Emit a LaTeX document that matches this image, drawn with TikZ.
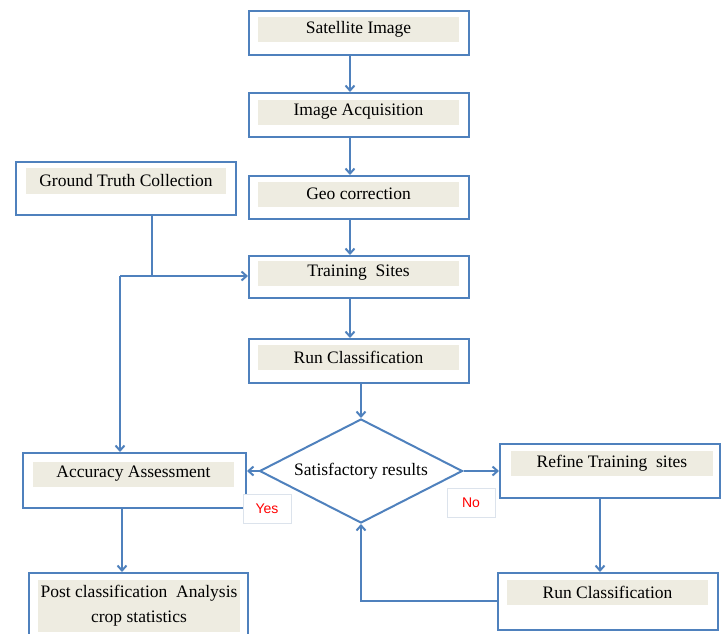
\documentclass[tikz,border=0pt]{standalone}
\usepackage{fontspec}
\setmainfont{Liberation Serif}
\newfontfamily\lblfont{Liberation Sans}
\usetikzlibrary{arrows.meta,shapes.geometric}
\definecolor{bord}{HTML}{4F81BD}
\definecolor{stripc}{HTML}{EEECE1}
\definecolor{lblbord}{HTML}{DCE3EC}
\tikzset{
  box/.style={draw=bord,line width=2pt,fill=white,minimum width=220pt,inner sep=0pt},
  strip/.style={fill=stripc,minimum width=201pt,minimum height=25pt,inner sep=0pt,font=\fontsize{17.5}{21}\selectfont},
  conn/.style={draw=bord,line width=2pt},
  arr/.style={conn,-{Straight Barb[length=5pt,width=9pt,line width=2pt]}},
  lbl/.style={draw=lblbord,line width=0.6pt,fill=white,minimum width=48pt,minimum height=29pt,inner sep=0pt,text=red,font=\lblfont\fontsize{14}{16}\selectfont},
}
\begin{document}
\begin{tikzpicture}[x=1pt,y=-1pt]
\useasboundingbox (0,0) rectangle (727,633);
% main column boxes
\node[box,minimum height=44pt] (sat) at (359,33) {};
\node[strip] (satt) at (358.5,29.5) {Satellite Image};
\node[box,minimum height=44pt] (acq) at (359,115) {};
\node[strip] (acqt) at (358.5,112) {Image Acquisition};
\node[box,minimum height=43pt] (geo) at (359,197.5) {};
\node[strip] (geot) at (358.5,194) {Geo correction};
\node[box,minimum height=42pt] (trn) at (359,277) {};
\node[strip] (trnt) at (358.5,273) {Training\ \ Sites};
\node[box,minimum height=44pt] (run) at (359,361) {};
\node[strip] (runt) at (358.5,357) {Run Classification};
% ground truth
\node[box,minimum height=53pt] (gt) at (126,188.5) {};
\node[strip,minimum width=200pt,minimum height=26pt] (gtt) at (126,181) {Ground Truth Collection};
% decision
\node[draw=bord,line width=2pt,diamond,aspect=1.95,minimum width=203pt,minimum height=104pt,inner sep=0pt,fill=white,font=\fontsize{17.5}{21}\selectfont] (dec) at (361,471) {Satisfactory results};
% accuracy
\node[box,minimum width=223pt,minimum height=55pt] (acc) at (134.5,480.5) {};
\node[strip] (acct) at (133.5,474) {Accuracy Assessment};
% refine
\node[box,minimum height=54pt] (ref) at (610,471) {};
\node[strip,minimum width=202pt] (reft) at (612,463.5) {Refine Training\ \ sites};
% run classification 2
\node[box,minimum height=57pt] (run2) at (608,601.5) {};
\node[strip] (run2t) at (607.5,592.5) {Run Classification};
% post classification
\node[box,minimum width=219pt,minimum height=66pt] (post) at (138.5,606) {};
\node[strip,minimum width=202pt,minimum height=52pt,align=center,font=\fontsize{17.5}{25}\selectfont] (postt) at (139,606) {Post classification\ \ Analysis\\crop statistics};
% yes / no labels
\node[lbl] (yes) at (267,508.5) {Yes};
\node[lbl] (no) at (471,502.5) {No};
% connectors
\draw[arr] (sat.south -| 350,0) -- (acq.north -| 350,0);
\draw[arr] (acq.south -| 350,0) -- (geo.north -| 350,0);
\draw[arr] (geo.south -| 350,0) -- (trn.north -| 350,0);
\draw[arr] (trn.south -| 350,0) -- (run.north -| 350,0);
\draw[arr] (run.south -| dec.north) -- (dec.north);
\coordinate (j1) at (152,276);
\coordinate (j2) at (120,276);
\draw[conn] (gt.south -| j1) -- (j1);
\draw[arr] (j2) -- (trn.west |- j2);
\draw[arr] (j2) -- (acc.north -| j2);
\draw[arr] (dec.west) -- (acc.east |- dec.west);
\draw[arr] (dec.east) -- (ref.west |- dec.east);
\draw[arr] (ref.south -| 600,0) -- (run2.north -| 600,0);
\coordinate (c1) at (dec.south |- 0,601);
\draw[arr] (run2.west |- c1) -- (c1) -- (dec.south);
\draw[arr] (acc.south -| 122,0) -- (post.north -| 122,0);
\end{tikzpicture}
\end{document}
